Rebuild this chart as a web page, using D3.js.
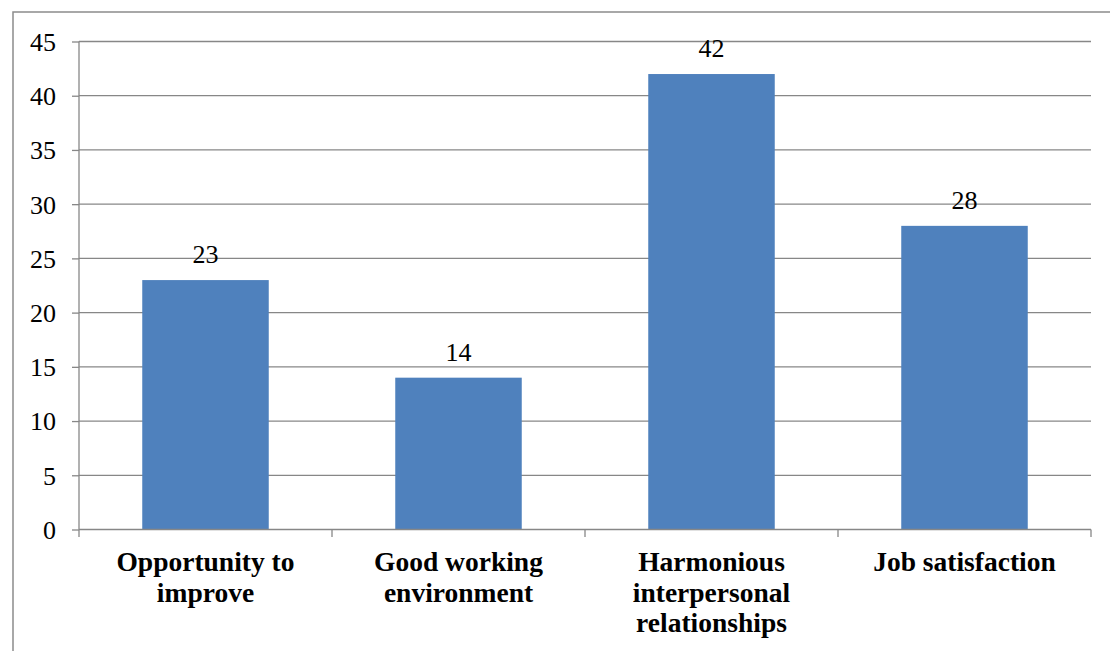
<!DOCTYPE html>
<html>
<head>
<meta charset="utf-8">
<script src="https://cdn.jsdelivr.net/npm/d3@7"></script>
<style>
  html, body { margin: 0; padding: 0; background: #fff; }
  svg { display: block; }
</style>
</head>
<body>
<svg id="chart" width="1110" height="651"></svg>
<script>
const categories = ["Opportunity to improve", "Good working environment", "Harmonious interpersonal relationships", "Job satisfaction"];
const values = [23, 14, 42, 28];
const yTicks = [0, 5, 10, 15, 20, 25, 30, 35, 40, 45];

const svg = d3.select("#chart");
const W = 1110, H = 651;
const plot = { left: 79, right: 1091, top: 41.5, bottom: 529.5 };
const gridColor = "#878787";
const barColor = "#4F81BD";
const fontFamily = '"Liberation Serif"';

// outer chart border
svg.append("rect")
  .attr("x", 13).attr("y", 12)
  .attr("width", W + 20).attr("height", H + 20)
  .attr("fill", "none").attr("stroke", "#8c8c8c").attr("stroke-width", 1.5);

const x = d3.scaleBand().domain(categories).range([plot.left, plot.right]).paddingInner(0.5).paddingOuter(0.25);
const y = d3.scaleLinear().domain([0, 45]).range([plot.bottom, plot.top]);

// gridlines
svg.append("g").selectAll("line").data(yTicks.filter(d => d > 0)).join("line")
  .attr("x1", plot.left).attr("x2", plot.right)
  .attr("y1", d => y(d)).attr("y2", d => y(d))
  .attr("stroke", gridColor).attr("stroke-width", 1.3);

// y axis
const yAxis = d3.axisLeft(y).tickValues(yTicks).tickSize(7).tickPadding(16).tickFormat(d3.format("d"));
const gy = svg.append("g").attr("transform", `translate(${plot.left},0)`).call(yAxis);
gy.attr("font-family", null).attr("font-size", null);
gy.select(".domain").attr("stroke", gridColor).attr("stroke-width", 1.3).attr("d", `M0,${plot.top}V${plot.bottom}`);
gy.selectAll(".tick line").attr("stroke", gridColor).attr("stroke-width", 1.3);
gy.selectAll(".tick text").style("font-family", fontFamily).style("font-size", "26px").attr("fill", "#000").attr("dy", "0.34em");

// bars
svg.append("g").selectAll("rect").data(values).join("rect")
  .attr("x", (d, i) => x(categories[i]))
  .attr("y", d => y(d))
  .attr("width", x.bandwidth())
  .attr("height", d => y(0) - y(d))
  .attr("fill", barColor);

// value labels
svg.append("g").selectAll("text").data(values).join("text")
  .attr("x", (d, i) => x(categories[i]) + x.bandwidth() / 2)
  .attr("y", d => y(d) - 17)
  .attr("text-anchor", "middle")
  .style("font-family", fontFamily).style("font-size", "26px").attr("fill", "#000")
  .text(d => d);

// x axis baseline and category ticks
const boundaries = d3.range(categories.length + 1).map(i => plot.left + i * (plot.right - plot.left) / categories.length);
svg.append("line")
  .attr("x1", plot.left).attr("x2", plot.right)
  .attr("y1", y(0)).attr("y2", y(0))
  .attr("stroke", gridColor).attr("stroke-width", 1.3);
svg.append("g").selectAll("line").data(boundaries).join("line")
  .attr("x1", d => d).attr("x2", d => d)
  .attr("y1", y(0)).attr("y2", y(0) + 7.5)
  .attr("stroke", gridColor).attr("stroke-width", 1.3);

// category labels with wrapping
const maxW = 215;
const lineH = 30.5;
const labelG = svg.append("g");
categories.forEach((cat, i) => {
  const cx = x(cat) + x.bandwidth() / 2;
  const t = labelG.append("text")
    .attr("text-anchor", "middle")
    .style("font-family", fontFamily).style("font-size", "27.5px").style("font-weight", "bold").attr("fill", "#000");
  const words = cat.split(" ");
  let lines = [], cur = [];
  const probe = t.append("tspan");
  words.forEach(w => {
    const test = cur.concat([w]).join(" ");
    probe.text(test);
    if (probe.node().getComputedTextLength() > maxW && cur.length) {
      lines.push(cur.join(" "));
      cur = [w];
    } else {
      cur.push(w);
    }
  });
  lines.push(cur.join(" "));
  probe.remove();
  lines.forEach((ln, j) => {
    t.append("tspan").attr("x", cx).attr("y", 571 + j * lineH).text(ln);
  });
});
</script>
</body>
</html>
